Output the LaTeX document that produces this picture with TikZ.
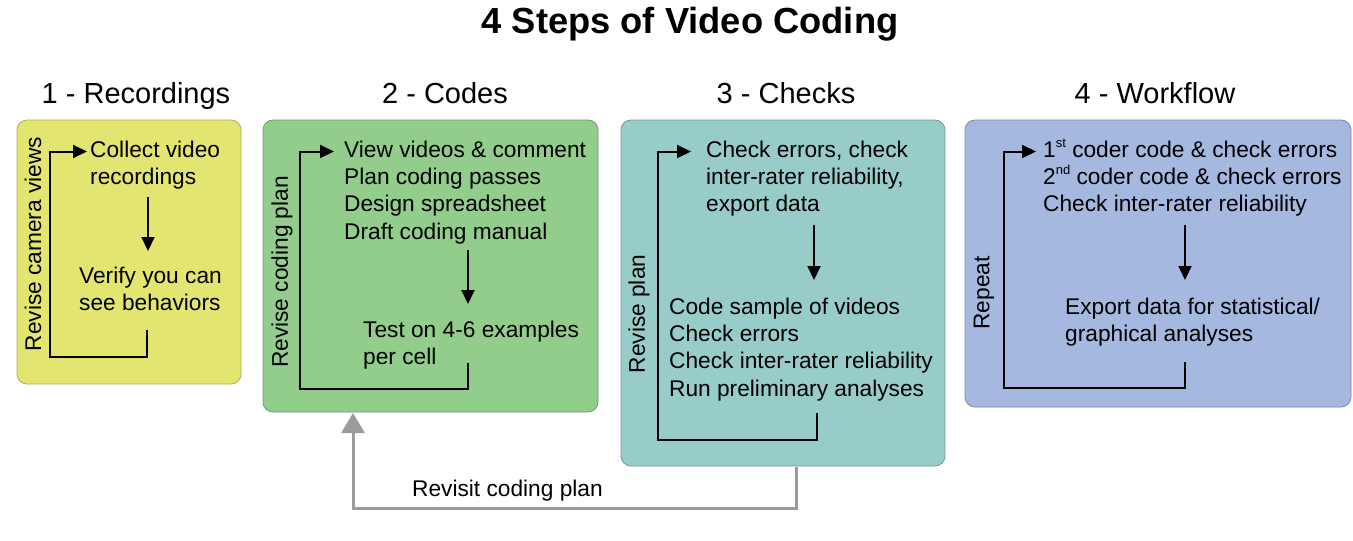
\documentclass[tikz,border=0pt]{standalone}
\usepackage{fontspec}
\setmainfont{Liberation Sans}
\usetikzlibrary{arrows.meta}
\definecolor{cyel}{RGB}{226,230,112}
\definecolor{cgrn}{RGB}{146,205,140}
\definecolor{cteal}{RGB}{152,204,200}
\definecolor{cblue}{RGB}{164,184,224}
\definecolor{cgray}{RGB}{155,155,159}
\newcommand{\supx}[1]{\smash{\raisebox{0.42em}{\fontsize{13}{13}\selectfont #1}}}
\tikzset{
  panel/.style={rounded corners=10pt, line width=0.8pt},
  body/.style={font=\fontsize{22.7}{27.3}\selectfont, align=left, inner sep=0pt, anchor=north west},
  side/.style={font=\fontsize{22.7}{27.3}\selectfont, inner sep=0pt, rotate=90},
  head/.style={font=\fontsize{29}{34}\selectfont, inner sep=0pt, anchor=base},
  arr/.style={line width=2pt, -{Triangle[length=14pt,width=13pt]}},
  garr/.style={line width=3pt, draw=cgray, -{Triangle[length=20pt,width=23pt]}},
}
\begin{document}
\begin{tikzpicture}[x=1pt,y=-1pt]
\useasboundingbox (0,0) rectangle (1353,541);
% title
\node[font=\fontsize{36.3}{40}\selectfont\bfseries, inner sep=0pt, anchor=base] (title) at (690,33.5) {4 Steps of Video Coding};
% headers
\node[head] (h1) at (136,103.5) {1 - Recordings};
\node[head] (h2) at (445,103.5) {2 - Codes};
\node[head] (h3) at (786,103.5) {3 - Checks};
\node[head] (h4) at (1155,103.5) {4 - Workflow};
% panels
\draw[panel, fill=cyel, draw=cyel!75!black] (17,120) rectangle (241,384);
\draw[panel, fill=cgrn, draw=cgrn!75!black] (263,120) rectangle (598,412);
\draw[panel, fill=cteal, draw=cteal!75!black] (621,120) rectangle (945,466);
\draw[panel, fill=cblue, draw=cblue!75!black] (965,120) rectangle (1351,407);

% ---- panel 1
\node[body] (collect) at (90,140.5) {Collect video\\recordings};
\node[body] (verify) at (79,266.5) {Verify you can\\see behaviors};
\node[side] (rev1) at (33,244) {Revise camera views};
\coordinate (a1s) at (148,197);
\coordinate (a1e) at (148,251);
\draw[arr] (a1s) -- (a1e);
\coordinate (l1a) at (147,330);
\coordinate (l1b) at (50,356.5);
\coordinate (l1c) at (87,151.5);
\draw[arr] (l1a) |- (l1b) |- (l1c);

% ---- panel 2
\node[body] (view) at (344,140.5) {View videos \& comment\\Plan coding passes\\Design spreadsheet\\Draft coding manual};
\node[body] (test) at (363,320.5) {Test on 4-6 examples\\per cell};
\node[side] (rev2) at (282,272) {Revise coding plan};
\coordinate (a2s) at (468,250);
\coordinate (a2e) at (468,304);
\draw[arr] (a2s) -- (a2e);
\coordinate (l2a) at (468,363);
\coordinate (l2b) at (300,389);
\coordinate (l2c) at (334,151.5);
\draw[arr] (l2a) |- (l2b) |- (l2c);

% ---- panel 3
\node[body] (check) at (706,140.5) {Check errors, check\\inter-rater reliability,\\export data};
\node[body] (sample) at (669,297.5) {Code sample of videos\\Check errors\\Check inter-rater reliability\\Run preliminary analyses};
\node[side] (rev3) at (639,314) {Revise plan};
\coordinate (a3s) at (814,225);
\coordinate (a3e) at (814,280);
\draw[arr] (a3s) -- (a3e);
\coordinate (l3a) at (817,413);
\coordinate (l3b) at (658,440);
\coordinate (l3c) at (691,151.5);
\draw[arr] (l3a) |- (l3b) |- (l3c);

% ---- panel 4
\node[body] (coder) at (1043,140.5) {1\supx{st} coder code \& check errors\\2\supx{nd} coder code \& check errors\\Check inter-rater reliability};
\node[body] (export) at (1065,297.5) {Export data for statistical/\\graphical analyses};
\node[side] (rev4) at (984,293) {Repeat};
\coordinate (a4s) at (1185,225);
\coordinate (a4e) at (1185,280);
\draw[arr] (a4s) -- (a4e);
\coordinate (l4a) at (1185,362);
\coordinate (l4b) at (1004,388);
\coordinate (l4c) at (1036,151.5);
\draw[arr] (l4a) |- (l4b) |- (l4c);

% ---- revisit arrow
\coordinate (g1) at (796,467);
\coordinate (g2) at (353,508);
\coordinate (g3) at (353,413);
\draw[garr] (g1) |- (g2) -- (g3);
\node[font=\fontsize{22.7}{27.3}\selectfont, inner sep=0pt, anchor=west] (revisit) at (412,491) {Revisit coding plan};
\end{tikzpicture}
\end{document}
